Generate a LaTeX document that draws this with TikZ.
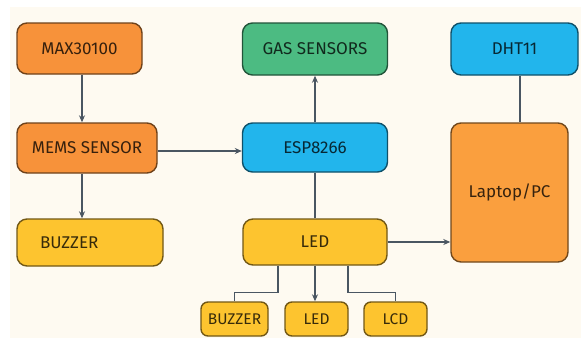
\documentclass[tikz,border=0pt]{standalone}
\usepackage{fontspec}
\setmainfont{Fira Sans}
\usetikzlibrary{arrows.meta}
\definecolor{bgc}{HTML}{FEFAF1}
\definecolor{orng}{HTML}{F7923A}
\definecolor{orng2}{HTML}{FA9F3E}
\definecolor{grn}{HTML}{4CBB82}
\definecolor{blu}{HTML}{22B5EC}
\definecolor{ylw}{HTML}{FDC42F}
\definecolor{linec}{HTML}{4A5662}
\tikzset{
  box/.style={rounded corners=10pt, fill=#1, draw=#1!45!black, line width=1.4pt,
    text=#1!22!black, font=\fontsize{17}{19}\selectfont, inner sep=0pt},
  sbox/.style={box=#1, rounded corners=7pt, font=\fontsize{15.5}{17}\selectfont},
  conn/.style={draw=linec, line width=1.5pt},
  arr/.style={conn, -{Stealth[length=7pt,width=6pt]}}
}
\begin{document}
\begin{tikzpicture}[x=1pt,y=-1pt]
\useasboundingbox (0,0) rectangle (581,338);
\fill[white] (0,0) rectangle (581,338);
\fill[bgc] (10,7) rectangle (581,338);
\node[box=orng, minimum width=125pt, minimum height=51pt] (max) at (79.5,48.5) {MAX30100};
\node[box=orng, minimum width=140pt, minimum height=50pt] (mems) at (87,148) {MEMS SENSOR};
\node[box=ylw, inner xsep=23pt, text width=100pt, align=left, minimum height=47pt] (buzz) at (90,242.5) {BUZZER};
\node[box=grn, minimum width=145pt, minimum height=52pt] (gas) at (315,49) {GAS SENSORS};
\node[box=blu, minimum width=145pt, minimum height=49pt] (esp) at (315,147.5) {ESP8266};
\node[box=blu, minimum width=127pt, minimum height=52pt] (dht) at (514.5,49) {DHT11};
\node[box=orng2, minimum width=117pt, minimum height=139pt] (pc) at (509.5,192.5) {Laptop/PC};
\node[box=ylw, minimum width=144pt, minimum height=46pt] (led) at (315,242) {LED};
\node[sbox=ylw, minimum width=67pt, minimum height=34pt] (sbuzz) at (234.5,319) {BUZZER};
\node[sbox=ylw, minimum width=63pt, minimum height=34pt] (sled) at (316.5,319) {LED};
\node[sbox=ylw, minimum width=63pt, minimum height=34pt] (slcd) at (395.5,319) {LCD};
\draw[arr] ([xshift=2.5pt]max.south) -- ([xshift=2.5pt]max.south |- mems.north);
\draw[arr] ([xshift=-5pt]mems.south) -- ([xshift=-5pt]mems.south |- buzz.north);
\draw[arr] ([yshift=-3pt]mems.east) -- ([yshift=-3pt]mems.east -| esp.west);
\draw[arr] (esp.north) -- (gas.south);
\draw[conn] (led.north) -- (led.north |- esp.south);
\draw[conn] ([xshift=5.5pt]dht.south) -- ([xshift=5.5pt]dht.south |- pc.north);
\draw[arr] (led.east) -- (led.east -| pc.west);
\draw[arr] (led.south) -- (led.south |- sled.north);
\draw[conn] ([xshift=-37pt]led.south) -- ++(0,27) -| (sbuzz.north);
\draw[conn] ([xshift=33pt]led.south) -- ++(0,27) -| (slcd.north);
\end{tikzpicture}
\end{document}
